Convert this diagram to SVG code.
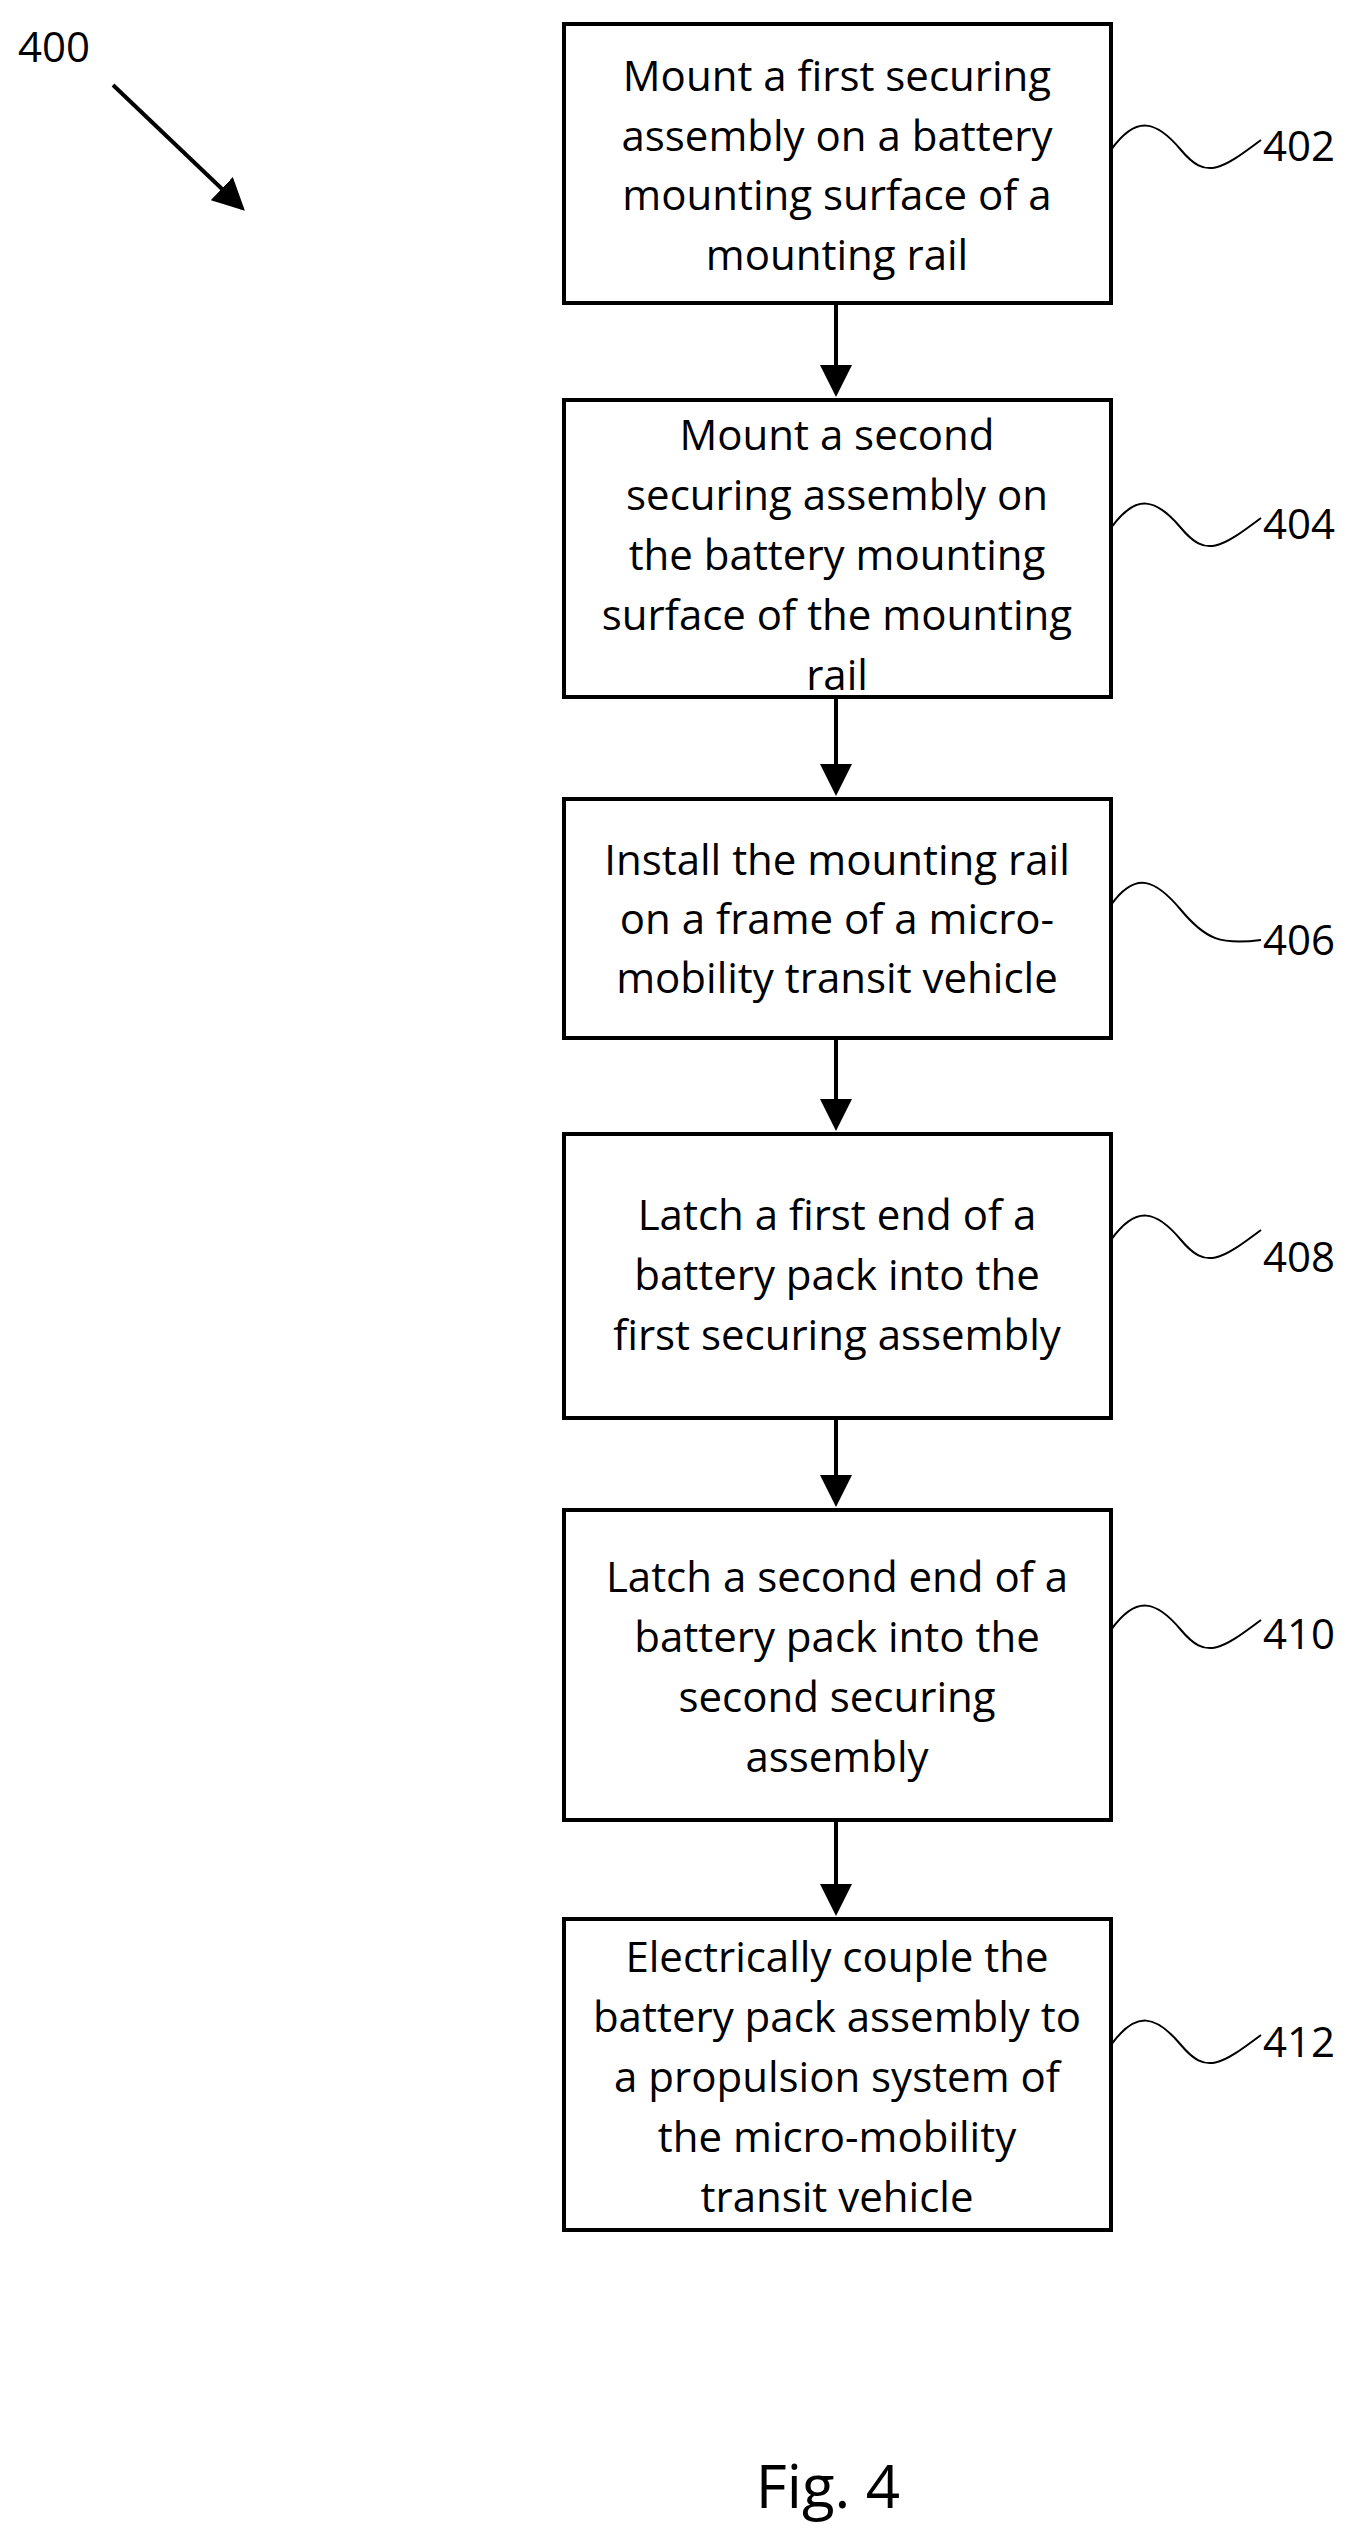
<svg xmlns="http://www.w3.org/2000/svg" width="1361" height="2541" viewBox="0 0 1361 2541">
<style>
text{font-family:"Open Sans","Liberation Sans",sans-serif;font-size:42px;fill:#000}
.b{fill:#fff;stroke:#000;stroke-width:4}
.c{text-anchor:middle}
.l{stroke:#000;stroke-width:4;fill:none}
.s{stroke:#000;stroke-width:2;fill:none}
</style>
<defs><marker id="a" markerWidth="8" markerHeight="8" refX="7" refY="4" orient="auto" markerUnits="strokeWidth"><path d="M0,0 L8,4 L0,8 Z" fill="#000"/></marker></defs>
<rect width="1361" height="2541" fill="#fff"/>
<g id="connectors">
<line class="l" x1="113" y1="85" x2="242" y2="208" marker-end="url(#a)"/>
<line class="l" x1="836" y1="303" x2="836" y2="393" marker-end="url(#a)"/>
<line class="l" x1="836" y1="697" x2="836" y2="792" marker-end="url(#a)"/>
<line class="l" x1="836" y1="1038" x2="836" y2="1127" marker-end="url(#a)"/>
<line class="l" x1="836" y1="1418" x2="836" y2="1503" marker-end="url(#a)"/>
<line class="l" x1="836" y1="1820" x2="836" y2="1912" marker-end="url(#a)"/>
</g>
<text x="18" y="62">400</text>
<g id="n402"><rect class="b" x="564" y="24" width="547" height="279"/>
<text class="c" x="837" y="91">Mount a first securing</text><text class="c" x="837" y="151">assembly on a battery</text><text class="c" x="837" y="210">mounting surface of a</text><text class="c" x="837" y="270">mounting rail</text>
<path class="s" d="M1111,150 c25,-35 45,-30 70,0 s40,20 80,-10"/><text x="1263" y="161">402</text></g>
<g id="n404"><rect class="b" x="564" y="400" width="547" height="297"/>
<text class="c" x="837" y="450">Mount a second</text><text class="c" x="837" y="510">securing assembly on</text><text class="c" x="837" y="570">the battery mounting</text><text class="c" x="837" y="630">surface of the mounting</text><text class="c" x="837" y="690">rail</text>
<path class="s" d="M1111,528 c25,-35 45,-30 70,0 s40,20 80,-10"/><text x="1263" y="539">404</text></g>
<g id="n406"><rect class="b" x="564" y="799" width="547" height="239"/>
<text class="c" x="837" y="875">Install the mounting rail</text><text class="c" x="837" y="934">on a frame of a micro-</text><text class="c" x="837" y="993">mobility transit vehicle</text>
<path class="s" d="M1111,905 c25,-35 45,-25 70,5 s40,35 80,30"/><text x="1263" y="955">406</text></g>
<g id="n408"><rect class="b" x="564" y="1134" width="547" height="284"/>
<text class="c" x="837" y="1230">Latch a first end of a</text><text class="c" x="837" y="1290">battery pack into the</text><text class="c" x="837" y="1350">first securing assembly</text>
<path class="s" d="M1111,1240 c25,-35 45,-30 70,0 s40,20 80,-10"/><text x="1263" y="1272">408</text></g>
<g id="n410"><rect class="b" x="564" y="1510" width="547" height="310"/>
<text class="c" x="837" y="1592">Latch a second end of a</text><text class="c" x="837" y="1652">battery pack into the</text><text class="c" x="837" y="1712">second securing</text><text class="c" x="837" y="1772">assembly</text>
<path class="s" d="M1111,1630 c25,-35 45,-30 70,0 s40,20 80,-10"/><text x="1263" y="1649">410</text></g>
<g id="n412"><rect class="b" x="564" y="1919" width="547" height="311"/>
<text class="c" x="837" y="1972">Electrically couple the</text><text class="c" x="837" y="2032">battery pack assembly to</text><text class="c" x="837" y="2092">a propulsion system of</text><text class="c" x="837" y="2152">the micro-mobility</text><text class="c" x="837" y="2212">transit vehicle</text>
<path class="s" d="M1111,2045 c25,-35 45,-30 70,0 s40,20 80,-10"/><text x="1263" y="2057">412</text></g>
<text class="c" x="828" y="2508" style="font-size:60px">Fig. 4</text>
</svg>
